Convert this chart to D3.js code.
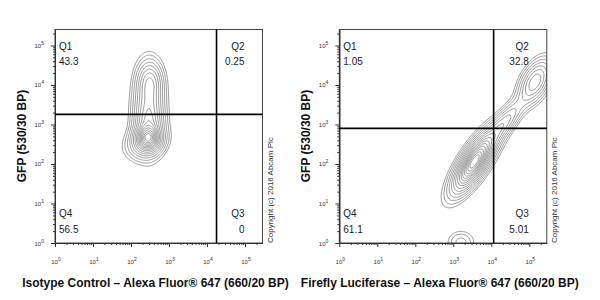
<!DOCTYPE html>
<html>
<head>
<meta charset="utf-8">
<script src="https://cdn.jsdelivr.net/npm/d3@7"></script>
<style>
  body { margin: 0; background: #fff; }
  svg { display: block; font-family: "Liberation Sans", Arial, sans-serif; }
</style>
</head>
<body>
<svg width="600" height="300"></svg>
<script>
// ---- data ----
var decades = [0, 1, 2, 3, 4, 5];
var minorSteps = [2, 3, 4, 5, 6, 7, 8, 9];
var yTitle = 'GFP (530/30 BP)';
var xTitles = [
  'Isotype Control \u2013 Alexa Fluor\u00ae 647 (660/20 BP)',
  'Firefly Luciferase \u2013 Alexa Fluor\u00ae 647 (660/20 BP)'
];
var quadNames = ['Q1', 'Q2', 'Q3', 'Q4'];
var isotypeQuads = ['43.3', '0.25', '0', '56.5'];
var luciferaseQuads = ['1.05', '32.8', '5.01', '61.1'];
var gateX = [17800, 11500];
var gateY = [1800, 800];
var copyright = 'Copyright (c) 2016 Abcam Plc';

// cell populations in log10 units: centre, spread, correlation, weight
var isotypeBlobs = [
  { x: 2.45, y: 2.65, sx: 0.19, sy: 0.19, r: 0, w: 0.75 },
  { x: 2.38, y: 2.55, sx: 0.3, sy: 0.25, r: 0.2, w: 0.3 },
  { x: 2.46, y: 3.05, sx: 0.22, sy: 0.28, r: 0, w: 0.2 },
  { x: 2.47, y: 3.4, sx: 0.23, sy: 0.6, r: 0, w: 0.5 },
  { x: 2.5, y: 4.1, sx: 0.19, sy: 0.3, r: 0, w: 0.3 }
];
var luciferaseBlobs = [
  { x: 3.55, y: 2.05, sx: 0.3, sy: 0.42, r: 0.75, w: 1.0 },
  { x: 3.6, y: 2.1, sx: 0.42, sy: 0.52, r: 0.8, w: 0.25 },
  { x: 4.35, y: 3.05, sx: 0.3, sy: 0.35, r: 0.8, w: 0.3 },
  { x: 5.15, y: 4.08, sx: 0.25, sy: 0.33, r: 0.5, w: 0.45 },
  { x: 3.2, y: 0.02, sx: 0.22, sy: 0.18, r: 0, w: 0.12 }
];
var contourLevels = [0.03, 0.05, 0.08, 0.12, 0.17, 0.23, 0.3, 0.38, 0.46, 0.54, 0.62, 0.7, 0.78, 0.86, 0.93];

var panels = [
  { title: xTitles[0], quads: isotypeQuads, gx: gateX[0], gy: gateY[0], blobs: isotypeBlobs },
  { title: xTitles[1], quads: luciferaseQuads, gx: gateX[1], gy: gateY[1], blobs: luciferaseBlobs }
];

// ---- layout ----
var svg = d3.select('svg');
var lefts = [55, 339.3];
var plotW = 207.5, plotTop = 29.5, plotBottom = 243;
var xMaxExp = 5.46, yMaxExp = 5.405;

var majors = decades.map(function (d) { return Math.pow(10, d); });
var minors = [];
decades.forEach(function (d) {
  minorSteps.forEach(function (m) { minors.push(m * Math.pow(10, d)); });
});

panels.forEach(function (p, k) {
  var left = lefts[k], right = left + plotW;
  var x = d3.scaleLog().domain([1, Math.pow(10, xMaxExp)]).range([left, right]);
  var y = d3.scaleLog().domain([1, Math.pow(10, yMaxExp)]).range([plotBottom, plotTop]);
  var g = svg.append('g');

  svg.append('clipPath').attr('id', 'clip' + k)
    .append('rect').attr('x', left).attr('y', plotTop)
    .attr('width', plotW).attr('height', plotBottom - plotTop);

  // density grid for the contours
  var nx = Math.round(plotW), ny = Math.round(plotBottom - plotTop);
  var values = new Float64Array(nx * ny);
  for (var j = 0; j < ny; j++) {
    var ly = Math.log10(y.invert(plotTop + j + 0.5));
    for (var i = 0; i < nx; i++) {
      var lx = Math.log10(x.invert(left + i + 0.5));
      var v = 0;
      p.blobs.forEach(function (b) {
        var dx = (lx - b.x) / b.sx, dy = (ly - b.y) / b.sy;
        v += b.w * Math.exp(-0.5 / (1 - b.r * b.r) * (dx * dx - 2 * b.r * dx * dy + dy * dy));
      });
      values[j * nx + i] = v;
    }
  }
  var vmax = d3.max(values);
  var contours = d3.contours().size([nx, ny])
    .thresholds(contourLevels.map(function (f) { return f * vmax; }))(values);

  g.append('g')
    .attr('clip-path', 'url(#clip' + k + ')')
    .append('g')
    .attr('transform', 'translate(' + left + ',' + plotTop + ')')
    .selectAll('path')
    .data(contours)
    .enter()
    .append('path')
    .attr('d', d3.geoPath())
    .attr('fill', 'none')
    .attr('stroke', '#6a6a6a')
    .attr('stroke-width', 0.65);

  // frame
  g.append('rect')
    .attr('x', left).attr('y', plotTop)
    .attr('width', plotW).attr('height', plotBottom - plotTop)
    .attr('fill', 'none').attr('stroke', '#444').attr('stroke-width', 1);

  // axes: major and minor ticks
  var axisGroups = [
    [d3.axisBottom(x).tickValues(majors).tickSize(4), 'translate(0,' + plotBottom + ')'],
    [d3.axisBottom(x).tickValues(minors.filter(function (m) { return m < Math.pow(10, xMaxExp); })).tickSize(2), 'translate(0,' + plotBottom + ')'],
    [d3.axisLeft(y).tickValues(majors).tickSize(4), 'translate(' + left + ',0)'],
    [d3.axisLeft(y).tickValues(minors.filter(function (m) { return m < Math.pow(10, yMaxExp); })).tickSize(2), 'translate(' + left + ',0)']
  ];
  axisGroups.forEach(function (a) {
    var ax = g.append('g').attr('transform', a[1])
      .call(a[0].tickFormat('').tickSizeOuter(0));
    ax.select('.domain').attr('stroke', '#333');
    ax.selectAll('.tick line').attr('stroke', '#333');
  });

  // tick labels 10^n
  var xl = g.selectAll('.xl').data(decades).enter().append('text')
    .attr('x', function (d) { return x(Math.pow(10, d)) + 1; })
    .attr('y', 263.5)
    .attr('text-anchor', 'middle')
    .attr('font-size', 6)
    .attr('fill', '#333');
  xl.append('tspan').text('10');
  xl.append('tspan').attr('dy', -3).attr('font-size', 5).text(function (d) { return d; });

  var yl = g.selectAll('.yl').data(decades).enter().append('text')
    .attr('x', left - 11)
    .attr('y', function (d) { return y(Math.pow(10, d)) + 2.5; })
    .attr('text-anchor', 'end')
    .attr('font-size', 6)
    .attr('fill', '#333');
  yl.append('tspan').text('10');
  yl.append('tspan').attr('dy', -3).attr('font-size', 5).text(function (d) { return d; });

  // quadrant gates
  g.append('line')
    .attr('x1', x(p.gx)).attr('x2', x(p.gx))
    .attr('y1', plotTop).attr('y2', plotBottom)
    .attr('stroke', '#000').attr('stroke-width', 1.6);
  g.append('line')
    .attr('x1', left).attr('x2', right)
    .attr('y1', y(p.gy)).attr('y2', y(p.gy))
    .attr('stroke', '#000').attr('stroke-width', 1.6);

  // quadrant labels
  var qPos = [
    [left + 4, 49.6, 'start'],
    [right - 18, 49.6, 'end'],
    [right - 18, 217, 'end'],
    [left + 4, 217, 'start']
  ];
  quadNames.forEach(function (q, i) {
    var t = qPos[i];
    g.append('text').attr('x', t[0]).attr('y', t[1])
      .attr('text-anchor', t[2]).attr('font-size', 10).attr('fill', '#222')
      .text(q);
    g.append('text').attr('x', t[0]).attr('y', t[1] + 15.5)
      .attr('text-anchor', t[2]).attr('font-size', 10).attr('fill', '#222')
      .text(p.quads[i]);
  });

  // axis titles
  g.append('text')
    .attr('transform', 'translate(' + (left - 29) + ',136) rotate(-90)')
    .attr('text-anchor', 'middle')
    .attr('font-size', 12).attr('font-weight', 'bold').attr('fill', '#111')
    .text(yTitle);
  g.append('text')
    .attr('x', left + 100.5).attr('y', 287)
    .attr('text-anchor', 'middle')
    .attr('font-size', 12).attr('font-weight', 'bold').attr('fill', '#111')
    .text(p.title);

  g.append('text')
    .attr('transform', 'translate(' + (right + 10.5) + ',' + plotBottom + ') rotate(-90)')
    .attr('font-size', 8).attr('fill', '#333')
    .text(copyright);
});
</script>
</body>
</html>
